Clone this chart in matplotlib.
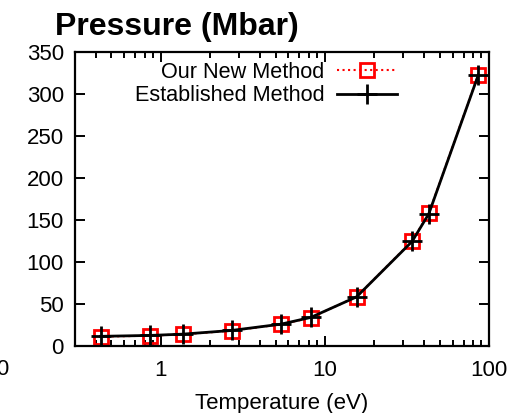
import matplotlib
matplotlib.use("Agg")
from matplotlib import pyplot as plt

plt.rcParams["font.family"] = ["Liberation Sans", "DejaVu Sans"]

# temperature (eV) and pressure (Mbar) for the two methods
temperature = [0.43, 0.865, 1.36, 2.7, 5.4, 8.2, 15.6, 34.0, 43.0, 86.0]
pressure_new = [11.1, 12.3, 13.9, 18.2, 25.8, 33.7, 58.7, 125.0, 158.0, 323.0]
pressure_est = [11.5, 12.6, 14.1, 18.5, 26.0, 34.0, 58.5, 124.5, 157.5, 322.5]

y_ticks = [0, 50, 100, 150, 200, 250, 300, 350]
x_ticks = [1, 10, 100]
x_tick_labels = ["1", "10", "100"]

W, H = 510, 413
fig = plt.figure(figsize=(W / 100, H / 100), dpi=100)
ax = fig.add_axes([75 / W, 1 - 346 / H, (489 - 75) / W, (346 - 52) / H])

ax.plot(temperature, pressure_new, color="red", linestyle=":", linewidth=1.5,
        marker="s", markersize=10, markerfacecolor="none",
        markeredgecolor="red", markeredgewidth=2.0, label="Our New Method")
ax.plot(temperature, pressure_est, color="black", linestyle="-", linewidth=2.0,
        marker="+", markersize=15, markeredgewidth=2.0, label="Established Method")

ax.set_xscale("log")
ax.set_xlim(0.3, 100)
ax.set_ylim(0, 350)
ax.set_xticks(x_ticks)
ax.set_xticklabels(x_tick_labels)
ax.set_yticks(y_ticks)

for side in ax.spines.values():
    side.set_linewidth(1.6)
ax.tick_params(which="both", direction="in", top=True, right=True,
               labelsize=16, width=1.4, color="black")
ax.tick_params(axis="y", which="major", length=7, pad=8)
ax.tick_params(axis="x", which="major", length=7, pad=10)
ax.tick_params(axis="x", which="minor", length=4)
ax.tick_params(axis="y", which="minor", left=False, right=False)

ax.set_xlabel("Temperature (eV)", fontsize=16, labelpad=9)

fig.text(55 / W, 1 - 35 / H, "Pressure (Mbar)", fontsize=23, fontweight="bold",
         ha="left", va="baseline")
# neighbouring panel's last tick label, cut by the figure edge
fig.text(9 / W, 1 - 359 / H, "100", fontsize=16, ha="right", va="top")

ax.legend(loc="upper right", bbox_to_anchor=(397 / W, 1 - 62 / H),
          bbox_transform=fig.transFigure, frameon=False, markerfirst=False,
          fontsize=15.6, handlelength=2.75, handletextpad=0.6,
          labelspacing=0.1, borderpad=0, borderaxespad=0)

fig.savefig("out.png", dpi=100)
